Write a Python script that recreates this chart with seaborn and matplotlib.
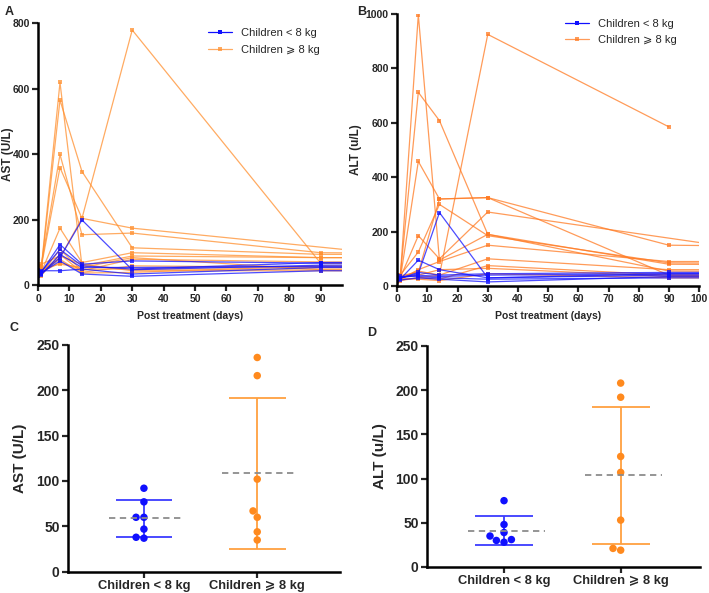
import numpy as np
import pandas as pd
import matplotlib
matplotlib.use("Agg")
import matplotlib.pyplot as plt
from matplotlib.lines import Line2D
import seaborn as sns

sns.set_style("ticks")
plt.rcParams['font.family'] = ['Liberation Sans', 'DejaVu Sans']

DAYS = [0, 1, 7, 14, 30, 90, 180]
nan = np.nan

# AST per child over time (U/L)
ast_small = {
    "S1": [45, 40, 125, 65, 75, 68, 70],
    "S2": [38, 35, 85, 200, 48, 62, 65],
    "S3": [30, 32, 95, 55, 55, 58, 58],
    "S4": [35, 38, 75, 35, 28, 45, 45],
    "S5": [40, 45, 45, 50, 35, 55, 55],
    "S6": [48, 42, 110, 60, 50, 70, 72],
}
ast_large = {
    "L1": [35, 45, 85, 205, 780, 68, 60],
    "L2": [40, 55, 360, 205, 175, nan, 30],
    "L3": [38, 50, 620, 60, 90, 85, 85],
    "L4": [42, 48, 566, 348, 115, 95, 95],
    "L5": [30, 60, 400, 155, 160, 100, 95],
    "L6": [35, 40, 175, 70, 100, 85, 85],
    "L7": [32, 35, 110, 45, 80, 72, 70],
    "L8": [28, 30, 95, 40, 60, 55, 55],
    "L9": [45, 40, 70, 50, 50, 50, 50],
    "L10": [50, 65, 90, 65, 45, 45, 42],
    "L11": [36, 42, 80, 38, 40, 60, 60],
    "L12": [40, 50, 65, 55, 85, 48, 45],
}

# ALT per child over time (u/L)
alt_small = {
    "S1": [30, 25, 95, 60, 30, 45, 45],
    "S2": [35, 30, 45, 270, 30, 40, 40],
    "S3": [20, 22, 30, 25, 15, 35, 35],
    "S4": [25, 28, 50, 40, 45, 50, 50],
    "S5": [40, 35, 35, 30, 25, 30, 30],
    "S6": [28, 30, 40, 35, 40, 45, 48],
}
alt_large = {
    "L1": [20, 30, 997, 95, 190, 80, 75],
    "L2": [25, 35, 712, 608, 190, 55, 50],
    "L3": [18, 25, 458, 320, 325, 150, 140],
    "L4": [22, 30, 185, 100, 272, nan, 32],
    "L5": [30, 40, 125, 300, 185, 85, 80],
    "L6": [15, 20, 30, 40, 925, 585, nan],
    "L7": [20, 25, 60, 90, 150, 90, 90],
    "L8": [25, 30, 55, 40, 100, 60, 60],
    "L9": [18, 22, 30, 25, 75, 40, 40],
    "L10": [30, 35, 40, 60, 65, 35, 32],
    "L11": [22, 28, 25, 20, 45, 30, 30],
    "L12": [35, 38, 50, 320, 325, 40, 38],
}

GROUPS = ["Children < 8 kg", "Children \u2A7E 8 kg"]

# single time-point values for the dot plots
ast_point_small = [92, 77, 60, 60, 47, 37, 38]
ast_point_large = [236, 216, 102, 67, 60, 44, 35]
alt_point_small = [75, 48, 39, 35, 31, 30, 28]
alt_point_large = [208, 192, 125, 107, 53, 21, 19]

BLUE = "#1010FF"
ORANGE = "#FF8A1E"
LINE_ORANGE = "#FF7A22"


def long_frame(small, large):
    rows = []
    for grp, d in zip(GROUPS, [small, large]):
        for sid, vals in d.items():
            for day, v in zip(DAYS, vals):
                if not np.isnan(v):
                    rows.append((grp, grp + sid, day, v))
    return pd.DataFrame(rows, columns=["group", "subject", "day", "value"])


def style_axis(ax, tick_size):
    sns.despine(ax=ax)
    for s in ["left", "bottom"]:
        ax.spines[s].set_linewidth(1.8)
        ax.spines[s].set_color("black")
    ax.tick_params(width=1.6, length=4, labelsize=tick_size, pad=2)
    for lab in ax.get_xticklabels() + ax.get_yticklabels():
        lab.set_fontweight("bold")


def time_panel(ax, small, large, ylabel, ymax, ystep, xmax, line_orange, label_x):
    df = long_frame(small, large)
    pal = {GROUPS[0]: BLUE, GROUPS[1]: line_orange}
    # draw orange first so blue sits on top
    for grp in [GROUPS[1], GROUPS[0]]:
        sub = df[df["group"] == grp]
        sns.lineplot(data=sub, x="day", y="value", units="subject",
                     estimator=None, color=pal[grp], lw=0.9, alpha=0.75,
                     marker="s", markersize=2.6, markeredgewidth=0,
                     sort=True, ax=ax, legend=False)
    ax.set_xlim(0, xmax)
    ax.set_ylim(0, ymax)
    ax.set_xticks(np.arange(0, xmax + 0.1, 10) if xmax >= 100 else np.arange(0, 91, 10))
    ax.set_yticks(np.arange(0, ymax + 1, ystep))
    ax.set_ylabel(ylabel, fontsize=8.5, fontweight="bold")
    ax.yaxis.set_label_coords(label_x, 0.5)
    ax.set_xlabel("Post treatment (days)", fontsize=7.5, fontweight="bold", labelpad=5)
    style_axis(ax, 7.5)
    handles = [Line2D([], [], color=BLUE, lw=0.9, marker="s", markersize=2.6, mew=0),
               Line2D([], [], color=line_orange, lw=0.9, marker="s", markersize=2.6, mew=0, alpha=0.75)]
    ax.legend(handles, GROUPS, loc="upper right", bbox_to_anchor=(0.96, 1.02),
              frameon=False, handlelength=2.2, labelspacing=0.6,
              prop={"family": ["Liberation Sans", "DejaVu Sans"], "size": 8})


def dot_panel(ax, small_vals, large_vals, ylabel, xlim, label_x):
    df = pd.DataFrame({
        "group": [GROUPS[0]] * len(small_vals) + [GROUPS[1]] * len(large_vals),
        "value": small_vals + large_vals,
    })
    pal = {GROUPS[0]: BLUE, GROUPS[1]: ORANGE}
    err_pal = ["#3C3CFF", "#FFA040"]
    for i, grp in enumerate(GROUPS):
        sub = df[df["group"] == grp]
        m = sub["value"].mean()
        sd = sub["value"].std()
        ax.vlines(i, m - sd, m + sd, color=err_pal[i], lw=1.3, zorder=1)
        ax.hlines([m - sd, m + sd], i - 0.25, i + 0.25, color=err_pal[i], lw=1.3, zorder=1)
        ax.hlines(m, i - 0.31, i + 0.35, color="#8c8c8c", lw=1.3,
                  linestyles=(0, (3.5, 2.5)), zorder=3)
    sns.swarmplot(data=df, x="group", y="value", hue="group", palette=pal,
                  order=GROUPS, size=5.4, ax=ax, legend=False, zorder=2)
    ax.set_xlim(*xlim)
    ax.set_ylim(0, 250)
    ax.set_yticks(np.arange(0, 251, 50))
    ax.set_xlabel("")
    ax.set_ylabel(ylabel, fontsize=11, fontweight="bold")
    ax.yaxis.set_label_coords(label_x, 0.5)
    style_axis(ax, 10)
    for lab in ax.get_xticklabels():
        lab.set_fontsize(9.3)


fig = plt.figure(figsize=(7.09, 5.93), dpi=100)
axA = fig.add_axes([0.0536, 0.5186, 0.4288, 0.4418])
axB = fig.add_axes([0.5602, 0.5177, 0.4258, 0.4587])
axC = fig.add_axes([0.0959, 0.0358, 0.3836, 0.3828])
axD = fig.add_axes([0.6023, 0.0439, 0.3850, 0.3727])

time_panel(axA, ast_small, ast_large, "AST (U/L)", 800, 200, 96.8, "#FF8F2E", -0.08)
time_panel(axB, alt_small, alt_large, "ALT (u/L)", 1000, 200, 100, LINE_ORANGE, -0.115)
dot_panel(axC, ast_point_small, ast_point_large, "AST (U/L)", (-0.67, 1.73), -0.15)
dot_panel(axD, alt_point_small, alt_point_large, "ALT (u/L)", (-0.66, 1.68), -0.145)

for lab, (x, y) in {"A": (5, 12), "B": (357, 12), "C": (10, 328), "D": (367, 333)}.items():
    fig.text(x / 709, 1 - y / 593, lab, fontsize=9, fontweight="bold", va="center", ha="left")

fig.savefig("out.png", dpi=100)
